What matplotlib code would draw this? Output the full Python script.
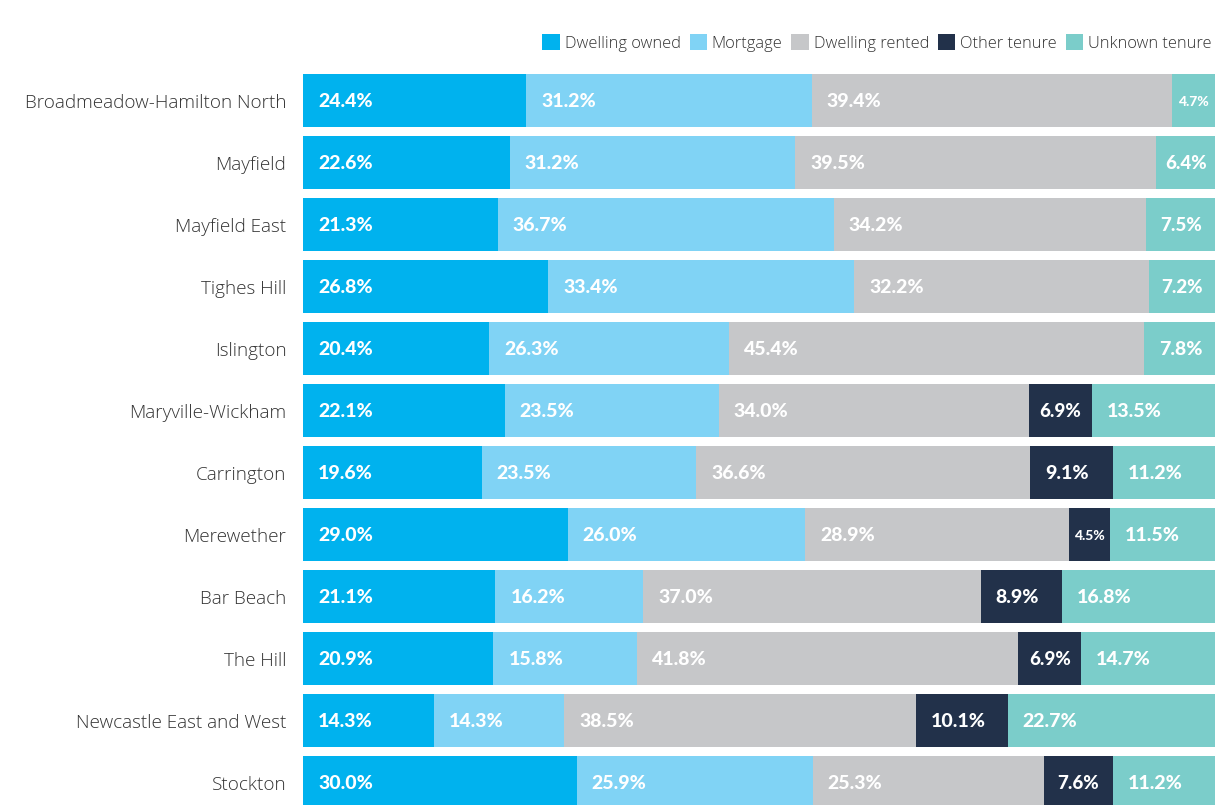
import matplotlib
matplotlib.use("Agg")
import matplotlib.pyplot as plt
from matplotlib.patches import Patch

plt.rcParams['font.family'] = ['Lato', 'DejaVu Sans']

categories = ["Broadmeadow-Hamilton North", "Mayfield", "Mayfield East", "Tighes Hill",
              "Islington", "Maryville-Wickham", "Carrington", "Merewether", "Bar Beach",
              "The Hill", "Newcastle East and West", "Stockton"]
series_names = ["Dwelling owned", "Mortgage", "Dwelling rented", "Other tenure", "Unknown tenure"]
dwelling_owned = [24.4, 22.6, 21.3, 26.8, 20.4, 22.1, 19.6, 29.0, 21.1, 20.9, 14.3, 30.0]
mortgage = [31.2, 31.2, 36.7, 33.4, 26.3, 23.5, 23.5, 26.0, 16.2, 15.8, 14.3, 25.9]
dwelling_rented = [39.4, 39.5, 34.2, 32.2, 45.4, 34.0, 36.6, 28.9, 37.0, 41.8, 38.5, 25.3]
other_tenure = [0, 0, 0, 0, 0, 6.9, 9.1, 4.5, 8.9, 6.9, 10.1, 7.6]
unknown_tenure = [4.7, 6.4, 7.5, 7.2, 7.8, 13.5, 11.2, 11.5, 16.8, 14.7, 22.7, 11.2]
colors = ["#00B2EE", "#80D3F5", "#C6C7C9", "#22314A", "#7BCDCA"]

series = [dwelling_owned, mortgage, dwelling_rented, other_tenure, unknown_tenure]

fig = plt.figure(figsize=(12.23, 8.05), dpi=100)
ax = fig.add_axes([303/1223, 0, (1215-303)/1223, 1])

W = 1215 - 303  # axes width in px
for i, cat in enumerate(categories):
    total = sum(s[i] for s in series)
    left = 0.0
    for s, c in zip(series, colors):
        v = s[i]
        if v <= 0:
            continue
        w = v / total * 100
        ax.barh(i, w, left=left, height=0.855, color=c, edgecolor='none')
        seg_px = w / 100 * W
        txt = f"{v:.1f}%"
        if seg_px < 45:
            ax.text(left + w / 2, i + 0.02, txt, ha='center', va='center', color='white',
                    fontsize=10, fontweight='black')
        elif seg_px < 70:
            ax.text(left + w / 2, i + 0.02, txt, ha='center', va='center', color='white',
                    fontsize=13.5, fontweight='black')
        else:
            ax.text(left + 15 / W * 100, i + 0.02, txt, ha='left', va='center', color='white',
                    fontsize=14, fontweight='black')
        left += w

ax.set_xlim(0, 100)
ax.set_ylim((805 - 100.5) / 62, -100.5 / 62)
ax.set_yticks(range(len(categories)))
ax.set_yticklabels(categories, fontsize=13.6, color='#333333',
                   family=['Open Sans', 'DejaVu Sans'], fontweight='light')
ax.tick_params(axis='y', length=0, pad=12)
ax.set_xticks([])
for sp in ax.spines.values():
    sp.set_visible(False)

handles = [Patch(facecolor=c, edgecolor='none') for c in colors]
fig.legend(handles, series_names, loc='center right', bbox_to_anchor=(1218/1223, 1 - 43/805),
           ncol=5, frameon=False, handlelength=1.05, handleheight=1.05,
           handletextpad=0.3, columnspacing=0.55, labelcolor='#333333', borderaxespad=0,
           prop={'family': ['Open Sans', 'DejaVu Sans'], 'size': 11.8, 'weight': 'light'})

fig.savefig("out.png", dpi=100)
